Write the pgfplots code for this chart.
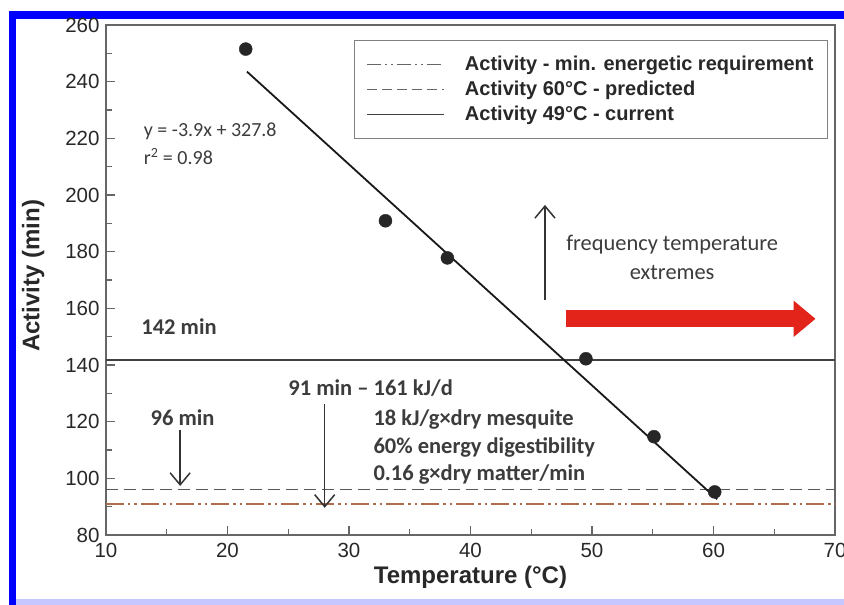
\documentclass[border=0pt]{standalone}
\usepackage{fontspec}
\setmainfont{Liberation Sans}
\newfontfamily\carl{Carlito}
\usepackage{pgfplots}
\pgfplotsset{compat=1.18}
\usetikzlibrary{arrows.meta}
\definecolor{brn}{RGB}{176,108,76}
\definecolor{redarr}{RGB}{226,36,26}
\definecolor{txt}{RGB}{40,40,40}
\definecolor{ann}{RGB}{60,60,60}
\begin{document}
\begin{tikzpicture}[x=1pt,y=1pt]
\useasboundingbox (0,0) rectangle (844,605);
\fill[white] (0,0) rectangle (844,605);
\fill[blue] (9,0) rectangle (16,594);
\fill[blue] (9,586) rectangle (844,594);
\fill[blue!22] (16,0) rectangle (844,6);
\begin{axis}[
  at={(106pt,70pt)}, anchor=south west,
  scale only axis, width=729pt, height=510pt,
  xmin=10, xmax=70, ymin=80, ymax=260,
  xtick={10,20,...,70}, minor xtick={15,25,...,65},
  ytick={80,100,...,260}, minor ytick={90,110,...,250},
  xtick pos=bottom, ytick pos=left,
  tick align=inside,
  major tick length=9pt, minor tick length=6pt,
  axis line style={draw=black!60, line width=1.3pt},
  tick style={draw=black!60, line width=1.1pt},
  /pgf/number format/assume math mode=true,
  tick label style={font=\fontsize{20.5}{23}\selectfont, text=txt},
  xticklabel style={yshift=-5pt},
  yticklabel style={xshift=-3pt},
  xlabel={Temperature (°C)},
  ylabel={Activity (min)},
  xlabel style={font=\fontsize{24}{27}\selectfont\bfseries, text=txt, at={(axis description cs:0.5,-0.082)}, anchor=center},
  ylabel style={font=\fontsize{24}{27}\selectfont\bfseries, text=txt, at={(axis description cs:-0.1,0.508)}, anchor=center},
  legend image code/.code={\draw[#1] (0pt,0pt) -- (77pt,0pt);},
  legend style={at={(1,1)}, xshift=-7pt, yshift=-15pt, anchor=north east,
    draw=black!50, line width=0.8pt, fill=white,
    font=\fontsize{20}{22}\selectfont\bfseries, text=txt,
    inner xsep=12pt, inner ysep=14pt, row sep=5pt,
    /tikz/every odd column/.append style={column sep=18pt},
    cells={anchor=west}, nodes={inner sep=2pt}},
  clip=false,
]
\addlegendimage{black!60, line width=1.6pt, dash pattern=on 14pt off 4pt on 2pt off 4pt on 2pt off 4pt}
\addlegendentry{Activity - min. energetic requirement}
\addlegendimage{black!60, line width=1.1pt, dash pattern=on 10pt off 5pt}
\addlegendentry{Activity 60°C - predicted}
\addlegendimage{black!75, line width=1.4pt}
\addlegendentry{Activity 49°C - current}

% reference lines
\addplot[forget plot, brn, line width=2.6pt, dash pattern=on 18pt off 4pt on 2.5pt off 4pt on 2.5pt off 4pt] coordinates {(10,91) (70,91)};
\addplot[forget plot, black!65, line width=1.1pt, dash pattern=on 12pt off 6pt] coordinates {(10,96) (70,96)};
\addplot[forget plot, black!75, line width=1.5pt] coordinates {(10,141.8) (70,141.8)};

% regression line y = -3.9x + 327.8
\addplot[forget plot, black!90, line width=1.8pt] coordinates {(21.6,243.56) (60.3,92.63)};

% observed data
\addplot[forget plot, only marks, mark=*, mark size=6.5pt, draw=black!85, fill=black!85] coordinates {
(21.5,251.5) (33.0,190.9) (38.1,177.8) (49.5,142.2) (55.1,114.7) (60.1,95.2)
};

% annotations
\node[font=\carl\fontsize{20}{24}\selectfont, text=ann, anchor=base west, inner sep=0pt] at (axis cs:13.1,220.5) {y = -3.9x + 327.8};
\node[font=\carl\fontsize{20}{24}\selectfont, text=ann, anchor=base west, inner sep=0pt] at (axis cs:13.1,210.6) {r\textsuperscript{2} = 0.98};
\node[font=\carl\bfseries\fontsize{22.5}{28}\selectfont, text=ann, anchor=base west, inner sep=0pt] at (axis cs:12.9,150.9) {142 min};
\node[font=\carl\bfseries\fontsize{22.5}{28}\selectfont, text=ann, anchor=base] at (axis cs:16.3,118.5) {96 min};
\draw[black!80, line width=1.5pt, -{Straight Barb[length=12pt,width=20pt]}] (axis cs:16.1,117.0) -- (axis cs:16.1,97.3);
\node[font=\carl\bfseries\fontsize{22.5}{28}\selectfont, text=ann, anchor=base west, inner sep=0pt] at (axis cs:25.0,129.1) {91 min – 161 kJ/d};
\draw[black!80, line width=1.5pt, -{Straight Barb[length=12pt,width=20pt]}] (axis cs:28.0,126.3) -- (axis cs:28.0,89.6);
\node[font=\carl\bfseries\fontsize{22.5}{28}\selectfont, text=ann, anchor=base west, inner sep=0pt] at (axis cs:32.0,118.5) {18 kJ/g×dry mesquite};
\node[font=\carl\bfseries\fontsize{22.5}{28}\selectfont, text=ann, anchor=base west, inner sep=0pt] at (axis cs:32.0,108.9) {60\% energy digestibility};
\node[font=\carl\bfseries\fontsize{22.5}{28}\selectfont, text=ann, anchor=base west, inner sep=0pt] at (axis cs:32.0,99.1) {0.16 g×dry matter/min};
\draw[black!80, line width=1.5pt, -{Straight Barb[length=12pt,width=20pt]}] (axis cs:46.13,162.9) -- (axis cs:46.13,196.5);
\node[font=\carl\fontsize{22.4}{29}\selectfont, text=ann, align=center] at (axis cs:56.6,178.0) {frequency temperature\\extremes};
\draw[redarr, line width=17pt, -{Triangle[length=22pt,width=35pt]}] (axis cs:47.9,156.3) -- (axis cs:68.4,156.3);
\end{axis}
\end{tikzpicture}
\end{document}
